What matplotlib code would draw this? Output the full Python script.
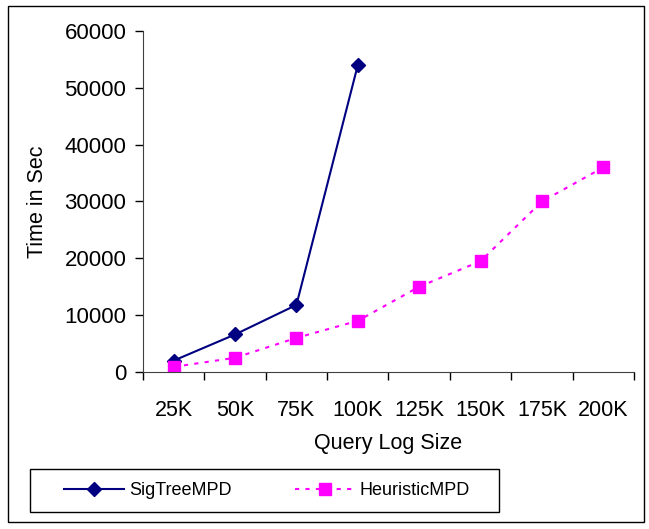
import matplotlib.pyplot as plt
from matplotlib.patches import Rectangle

plt.rcParams['font.family'] = ['Liberation Sans', 'DejaVu Sans']

# ─── Data ────────────────────────────────────────────────────────────────────
sizes = ["25K", "50K", "75K", "100K", "125K", "150K", "175K", "200K"]
sigtree = [2000, 6600, 11800, 54000]
heuristic = [900, 2500, 6000, 9000, 15000, 19500, 30000, 36000]

# ─── Plotting ────────────────────────────────────────────────────────────────
fig = plt.figure(figsize=(6.49, 5.29), dpi=100)
ax = fig.add_axes([0.2203, 0.2968, 0.7566, 0.6446])

xs = [i + 0.5 for i in range(len(sizes))]
ax.plot(xs[:len(sigtree)], sigtree, color="#000080", lw=1.5, marker="D",
        ms=7, label="SigTreeMPD")
ax.plot(xs, heuristic, color="#ff00ff", lw=1.5, ls=(0, (2, 3)), marker="s",
        ms=8, label="HeuristicMPD")

ax.set_xlim(0, len(sizes))
ax.set_ylim(0, 60000)
ax.set_xticks(range(len(sizes) + 1))
ax.set_xticklabels([])
ax.set_xticks(xs, minor=True)
ax.set_xticklabels(sizes, minor=True)
ax.tick_params(axis="x", which="minor", length=0, pad=20, labelsize=15.5)
ax.tick_params(axis="x", which="major", length=6, width=1, direction="out")
ax.set_yticks(range(0, 60001, 10000))
ax.tick_params(axis="y", length=6, width=1, direction="out", pad=6,
               labelsize=16)
for s in ["top", "right"]:
    ax.spines[s].set_visible(False)
for s in ["left", "bottom"]:
    ax.spines[s].set_color("#404040")

ax.set_ylabel("Time in Sec", fontsize=15.5, labelpad=12)
ax.set_xlabel("Query Log Size", fontsize=15.5, labelpad=9)

# legend without its own frame; the box is drawn separately
fig.legend(loc="center", bbox_to_anchor=(0.4114, 0.0728),
           bbox_transform=fig.transFigure, ncol=2, fontsize=13,
           frameon=False, handlelength=3.3, handletextpad=0.3,
           columnspacing=3.5, borderpad=0)
fig.patches.append(Rectangle((0.0462, 0.0321), 0.7227, 0.0813,
                             transform=fig.transFigure, fill=False,
                             edgecolor="black", lw=1))

fig.patches.append(Rectangle((0.013, 0.013), 0.98, 0.975, transform=fig.transFigure,
                             fill=False, edgecolor="black", lw=1))

fig.savefig("out.png", dpi=100)
